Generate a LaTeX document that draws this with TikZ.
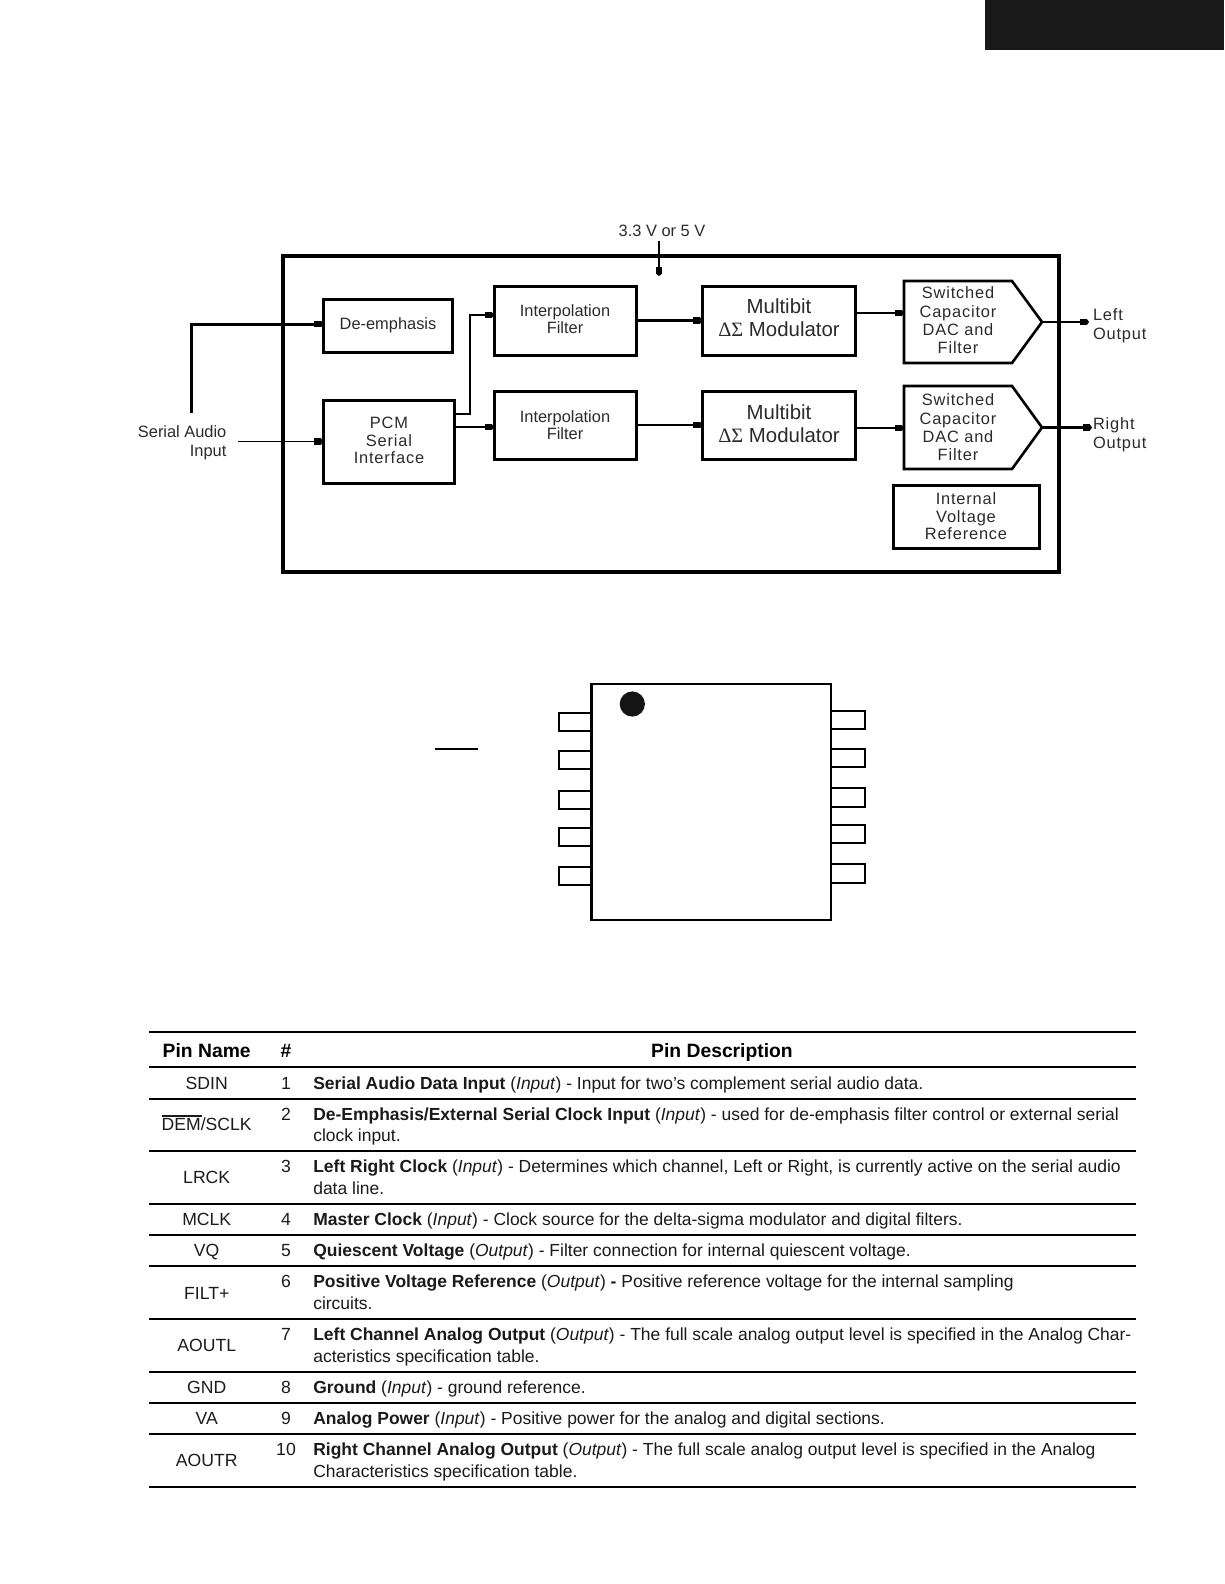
\documentclass[tikz,border=0pt]{standalone}
\usepackage{fontspec}
\setmainfont{Liberation Sans}
\newfontfamily\spc[LetterSpace=5]{Liberation Sans}
\newfontfamily\symf{Liberation Serif}
\usetikzlibrary{arrows.meta,calc}
\newcommand{\up}[1]{\rule[-#1pt]{0pt}{#1pt}}
\definecolor{ink}{HTML}{2A2A2A}
\definecolor{tink}{HTML}{1A1A1A}
\tikzset{
  x=1pt,y=-1pt,
  every node/.style={inner sep=0pt,outer sep=0pt},
  frame/.style={draw=black,line width=4pt,line join=miter},
  blk/.style={draw=black,line width=3pt,align=center,text=ink,font=\fontsize{16.4}{17.6}\selectfont},
  blks/.style={blk,font=\spc\fontsize{16.4}{17.6}\selectfont},
  blkm/.style={blk,font=\fontsize{20.4}{23}\selectfont},
  dactext/.style={align=center,text=ink,font=\spc\fontsize{16.4}{18.3}\selectfont},
  penta/.style={draw=black,line width=2.6pt,line join=miter},
  lbl/.style={text=ink,font=\fontsize{16.4}{19}\selectfont},
  lbls/.style={text=ink,font=\spc\fontsize{16.4}{19}\selectfont},
  wire/.style={draw=black,line width=2.6pt,-{Rectangle[length=7pt,width=6.5pt]Triangle[length=2.5pt,width=6.5pt]}},
  thin wire/.style={wire,line width=1.5pt},
  pinbox/.style={draw=black,line width=2pt},
  hrule/.style={draw=black,line width=2pt},
  thead/.style={anchor=base,text=black,font=\bfseries\fontsize{19.3}{22}\selectfont},
  tname/.style={anchor=base,text=tink,font=\fontsize{17.6}{20}\selectfont},
  tdesc/.style={anchor=base west,text=tink,font=\fontsize{17.47}{20}\selectfont},
}
\begin{document}
\begin{tikzpicture}
\useasboundingbox (0,0) rectangle (1224,1584);
\fill[black!90] (985,0) rectangle (1224,50);

% block diagram
\draw[frame] (283,256) rectangle (1059,572);
\node[blk,minimum width=129pt,minimum height=53pt] (demph) at (388,326) {De-emphasis\up{5}};
\node[blks,minimum width=131pt,minimum height=83pt] (pcm) at (389,441.5) {PCM\\Serial\\Interface\up{2}};
\node[blk,minimum width=142pt,minimum height=69pt] (int1) at (565,320.5) {Interpolation\\Filter\up{3}};
\node[blk,minimum width=142pt,minimum height=68pt] (int2) at (565,425) {Interpolation\\Filter};
\node[blkm,minimum width=153pt,minimum height=69pt] (mod1) at (779,320.5) {Multibit\\{\symf ΔΣ} Modulator\up{5}};
\node[blkm,minimum width=153pt,minimum height=68pt] (mod2) at (779,425) {Multibit\\{\symf ΔΣ} Modulator\up{2}};
\node[dactext,minimum width=108pt,minimum height=82pt] (dac1) at (958,322) {Switched\\Capacitor\\DAC and\\Filter\up{3}};
\node[dactext,minimum width=108pt,minimum height=83pt] (dac2) at (958,427.5) {Switched\\Capacitor\\DAC and\\Filter};
\coordinate (tip1) at ($(dac1.east)+(30pt,0)$);
\coordinate (tip2) at ($(dac2.east)+(30pt,0)$);
\draw[penta] (dac1.north west) -- (dac1.north east) -- (tip1) -- (dac1.south east) -- (dac1.south west) -- cycle;
\draw[penta] (dac2.north west) -- (dac2.north east) -- (tip2) -- (dac2.south east) -- (dac2.south west) -- cycle;
\node[blks,minimum width=146pt,minimum height=63pt] (ivr) at (966,516.5) {Internal\\Voltage\\Reference};

\node[lbl,anchor=south east,align=right] (sai) at (226.4,460) {Serial Audio\\Input};
\node[lbl,anchor=base] (v33) at (662,236) {3.3 V or 5 V};
\node[lbls,anchor=north west,align=left] (lout) at (1093,308.5) {Left\\Output};
\node[lbls,anchor=north west,align=left] (rout) at (1093,417.5) {Right\\Output};

\coordinate (dIn) at (191,413);
\coordinate (bend) at (470,360);
\coordinate (lEnd) at (1089,322);
\coordinate (rEnd) at (1092,427.5);
\coordinate (vEnd) at (659,276);
\draw[wire,line width=3pt] (dIn) |- ([yshift=2pt]demph.west);
\draw[thin wire] ([xshift=12pt]sai.east |- pcm.west) -- (pcm.west);
\draw[thin wire,line width=2pt] ([yshift=27.5pt]pcm.east) -| (bend) |- ([yshift=5.5pt]int1.west);
\draw[wire] ([yshift=14.5pt]pcm.east) -- ([yshift=-2pt]int2.west);
\draw[wire] (int1.east) -- (mod1.west);
\draw[wire] (int2.east) -- (mod2.west);
\draw[wire] ([yshift=7.5pt]mod1.east) -- ([yshift=9pt]dac1.west);
\draw[wire] ([yshift=-3pt]mod2.east) -- ([yshift=-.5pt]dac2.west);
\draw[wire] (tip1) -- (lEnd);
\draw[wire] (tip2) -- (rEnd);
\draw[wire] ([xshift=-3pt,yshift=-5pt]v33.south) -- (vEnd);

% pin diagram
\node[draw=black,line width=2.4pt,minimum width=239.5pt,minimum height=236pt] (ic) at (711.3,802) {};
\fill[black!92] (632.3,704) circle (12.6pt);
\draw[hrule] (435,749) -- (477.7,749);
\draw[pinbox] (591.7,712.7) -- (558.7,712.7) -- (558.7,731.3) -- (591.7,731.3);
\draw[pinbox] (591.7,750.7) -- (558.7,750.7) -- (558.7,769) -- (591.7,769);
\draw[pinbox] (591.7,790.7) -- (558.7,790.7) -- (558.7,809) -- (591.7,809);
\draw[pinbox] (591.7,827.7) -- (558.7,827.7) -- (558.7,846) -- (591.7,846);
\draw[pinbox] (591.7,866.7) -- (558.7,866.7) -- (558.7,885.3) -- (591.7,885.3);
\draw[pinbox] (831,710.7) -- (865.3,710.7) -- (865.3,729.3) -- (831,729.3);
\draw[pinbox] (831,748.7) -- (865.3,748.7) -- (865.3,767) -- (831,767);
\draw[pinbox] (831,787.7) -- (865.3,787.7) -- (865.3,807) -- (831,807);
\draw[pinbox] (831,824.7) -- (865.3,824.7) -- (865.3,843) -- (831,843);
\draw[pinbox] (831,863.7) -- (865.3,863.7) -- (865.3,883) -- (831,883);

% table rules
\foreach \yy in {1032.3,1067,1099,1151,1203.7,1235,1265.7,1319,1371.7,1403,1433.7,1487}
  \draw[hrule] (149,\yy) -- (1136,\yy);

% table text
\node[thead] (hname) at (206.7,1057.7) {Pin Name};
\node[thead] (hnum) at (286,1057.7) {\#};
\node[thead] (hdesc) at (722,1057.7) {Pin Description};

\node[tname] (n1) at (206.7,1089) {SDIN};
\node[tname] (n2) at (206.7,1130.7) {\rlap{\raisebox{14pt}{\rule{40pt}{2.2pt}}}DEM/SCLK};
\node[tname] (n3) at (206.7,1183.3) {LRCK};
\node[tname] (n4) at (206.7,1225) {MCLK};
\node[tname] (n5) at (206.7,1256.4) {VQ};
\node[tname] (n6) at (206.7,1299) {FILT+};
\node[tname] (n7) at (206.7,1351.3) {AOUTL};
\node[tname] (n8) at (206.7,1393) {GND};
\node[tname] (n9) at (206.7,1424.7) {VA};
\node[tname] (n10) at (206.7,1466.3) {AOUTR};

\node[tname] (p1) at (286,1089) {1};
\node[tname] (p2) at (286,1120) {2};
\node[tname] (p3) at (286,1172.7) {3};
\node[tname] (p4) at (286,1225) {4};
\node[tname] (p5) at (286,1256.4) {5};
\node[tname] (p6) at (286,1287.7) {6};
\node[tname] (p7) at (286,1340.7) {7};
\node[tname] (p8) at (286,1393) {8};
\node[tname] (p9) at (286,1424.7) {9};
\node[tname] (p10) at (286,1455.7) {10};

\node[tdesc] (d1) at (313.3,1089) {\textbf{Serial Audio Data Input} (\textit{Input}) - Input for two’s complement serial audio data.};
\node[tdesc] (d2) at (313.3,1120) {\textbf{De-Emphasis/External Serial Clock Input} (\textit{Input}) - used for de-emphasis filter control or external serial};
\node[tdesc] (d2b) at (313.3,1141.7) {clock input.};
\node[tdesc] (d3) at (313.3,1172.7) {\textbf{Left Right Clock} (\textit{Input}) - Determines which channel, Left or Right, is currently active on the serial audio};
\node[tdesc] (d3b) at (313.3,1194) {data line.};
\node[tdesc] (d4) at (313.3,1225) {\textbf{Master Clock} (\textit{Input}) - Clock source for the delta-sigma modulator and digital filters.};
\node[tdesc] (d5) at (313.3,1256.4) {\textbf{Quiescent Voltage} (\textit{Output}) - Filter connection for internal quiescent voltage.};
\node[tdesc] (d6) at (313.3,1287.7) {\textbf{Positive Voltage Reference} (\textit{Output}) \textbf{-} Positive reference voltage for the internal sampling};
\node[tdesc] (d6b) at (313.3,1309.3) {circuits.};
\node[tdesc] (d7) at (313.3,1340.7) {\textbf{Left Channel Analog Output} (\textit{Output}) - The full scale analog output level is specified in the Analog Char-};
\node[tdesc] (d7b) at (313.3,1362) {acteristics specification table.};
\node[tdesc] (d8) at (313.3,1393) {\textbf{Ground} (\textit{Input}) - ground reference.};
\node[tdesc] (d9) at (313.3,1424.7) {\textbf{Analog Power} (\textit{Input}) - Positive power for the analog and digital sections.};
\node[tdesc] (d10) at (313.3,1455.7) {\textbf{Right Channel Analog Output} (\textit{Output}) - The full scale analog output level is specified in the Analog};
\node[tdesc] (d10b) at (313.3,1477) {Characteristics specification table.};
\end{tikzpicture}
\end{document}
